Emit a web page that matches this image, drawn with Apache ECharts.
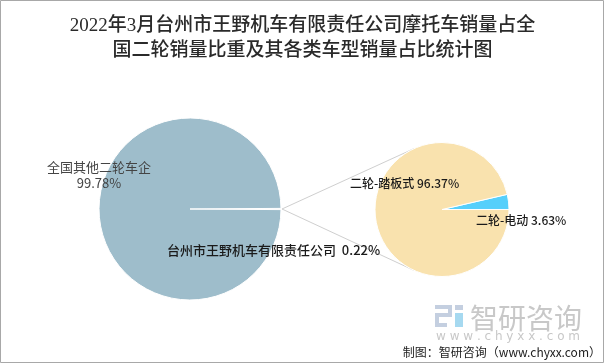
<!DOCTYPE html>
<html>
<head>
<meta charset="utf-8">
<script src="https://cdn.jsdelivr.net/npm/echarts@6/dist/echarts.min.js"></script>
<style>
html,body{margin:0;padding:0;background:#fff;}
#chart{width:605px;height:364px;}
</style>
</head>
<body>
<div id="chart"></div>
<script>
// ---- data ----
const titleLines = ['2022年3月台州市王野机车有限责任公司摩托车销量占全', '国二轮销量比重及其各类车型销量占比统计图'];
const leftNames = ['台州市王野机车有限责任公司', '全国其他二轮车企'];
const leftValues = [0.22, 99.78];
const rightNames = ['二轮-电动', '二轮-踏板式'];
const rightValues = [3.63, 96.37];
const sourceText = '制图：智研咨询（www.chyxx.com）';

// ---- layout ----
const L = {cx: 190, cy: 209, r: 91};
const R = {cx: 442, cy: 209.5, r: 67};

// tangent lines from left pie edge to right pie
const px = L.cx + L.r + 1, py = L.cy;
const d = Math.hypot(R.cx - px, R.cy - py);
const th = Math.acos(R.r / d);
const base = Math.atan2(py - R.cy, px - R.cx);
const t1 = [R.cx + R.r * Math.cos(base + th), R.cy + R.r * Math.sin(base + th)];
const t2 = [R.cx + R.r * Math.cos(base - th), R.cy + R.r * Math.sin(base - th)];

const chart = echarts.init(document.getElementById('chart'), null, {renderer: 'canvas'});
const lblFont = '"Noto Sans CJK SC", "Noto Sans", sans-serif';

const leftLabelPos = [{x: 167, y: 250, align: 'left'}, {x: 99, y: 175, align: 'center'}];
const rightLabelPos = [{x: 476, y: 220, align: 'left'}, {x: 350, y: 183, align: 'left'}];

chart.setOption({
  animation: false,
  backgroundColor: '#fff',
  title: {
    text: titleLines.join('\n'),
    left: 'center',
    top: 9,
    textStyle: {
      fontFamily: '"Liberation Serif", "Noto Sans CJK SC", serif',
      fontSize: 19,
      fontWeight: 500,
      color: '#2a2a2a',
      lineHeight: 25
    }
  },
  series: [
    {
      type: 'pie',
      center: [L.cx, L.cy],
      radius: [0, L.r],
      startAngle: 0.4,
      clockwise: true,
      silent: true,
      itemStyle: {color: '#9ebdcb', borderColor: '#fff', borderWidth: 1},
      label: {
        show: true,
        fontFamily: lblFont,
        fontSize: 13,
        color: '#1a1a1a',
        overflow: 'none',
        width: 300,
        formatter: p => p.dataIndex === 0 ? p.name + '  ' + p.value + '%' : p.name + '\n' + p.value + '%',
        lineHeight: 16
      },
      labelLine: {show: false},
      labelLayout: p => Object.assign({verticalAlign: 'middle'}, leftLabelPos[p.dataIndex]),
      data: leftNames.map((n, i) => ({
        name: n, value: leftValues[i],
        label: i === 1 ? {color: '#444'} : {fontWeight: 500}
      }))
    },
    {
      type: 'pie',
      center: [R.cx, R.cy],
      radius: [0, R.r],
      startAngle: 13.07,
      clockwise: true,
      silent: true,
      itemStyle: {borderColor: '#fff', borderWidth: 1},
      label: {
        show: true,
        fontFamily: lblFont,
        fontSize: 12,
        fontWeight: 500,
        color: '#1a1a1a',
        overflow: 'none',
        width: 300,
        formatter: '{b} {c}%'
      },
      labelLine: {show: false},
      labelLayout: p => Object.assign({verticalAlign: 'middle'}, rightLabelPos[p.dataIndex]),
      data: rightNames.map((n, i) => ({
        name: n, value: rightValues[i],
        itemStyle: {color: i === 0 ? '#56cffb' : '#f9e2ae'}
      }))
    }
  ],
  graphic: [
    {type: 'rect', shape: {x: 0.5, y: 0.5, width: 603, height: 362}, style: {fill: 'none', stroke: '#a8a8a8', lineWidth: 1}, z: 100},
    {type: 'line', shape: {x1: px, y1: py, x2: t1[0], y2: t1[1]}, style: {stroke: '#cfcfcf', lineWidth: 1}, z: 1},
    {type: 'line', shape: {x1: px, y1: py, x2: t2[0], y2: t2[1]}, style: {stroke: '#cfcfcf', lineWidth: 1}, z: 1},
    // watermark logo
    {type: 'group', z: 1, children: [
      {type: 'rect', shape: {x: 435, y: 305, width: 17, height: 4}, style: {fill: '#c4cfe0'}},
      {type: 'rect', shape: {x: 448, y: 305, width: 4, height: 12}, style: {fill: '#c4cfe0'}},
      {type: 'rect', shape: {x: 435, y: 313, width: 17, height: 4}, style: {fill: '#c4cfe0'}},
      {type: 'rect', shape: {x: 435, y: 313, width: 4, height: 14}, style: {fill: '#c4cfe0'}},
      {type: 'rect', shape: {x: 435, y: 323, width: 12, height: 4}, style: {fill: '#c4cfe0'}},
      {type: 'rect', shape: {x: 455, y: 305, width: 8, height: 5}, style: {fill: '#c4cfe0'}},
      {type: 'rect', shape: {x: 455, y: 313, width: 8, height: 14}, style: {fill: '#a6d9f0'}}
    ]},
    {type: 'text', z: 1, style: {text: '智研咨询', x: 470, y: 318, fontSize: 28, fontFamily: lblFont, fill: '#c8c8c8', verticalAlign: 'middle'}},
    {type: 'text', z: 1, style: {text: 'w w w . c h y x x . c o m', x: 508, y: 337, fontSize: 12, fontFamily: '"DejaVu Sans", sans-serif', fill: '#c8c8c8', align: 'center', verticalAlign: 'middle'}},
    {type: 'text', z: 2, style: {text: sourceText, x: 601, y: 352, fontSize: 12, fontFamily: '"Noto Sans CJK SC", sans-serif', fill: '#222', align: 'right', verticalAlign: 'middle'}}
  ]
});
</script>
</body>
</html>
